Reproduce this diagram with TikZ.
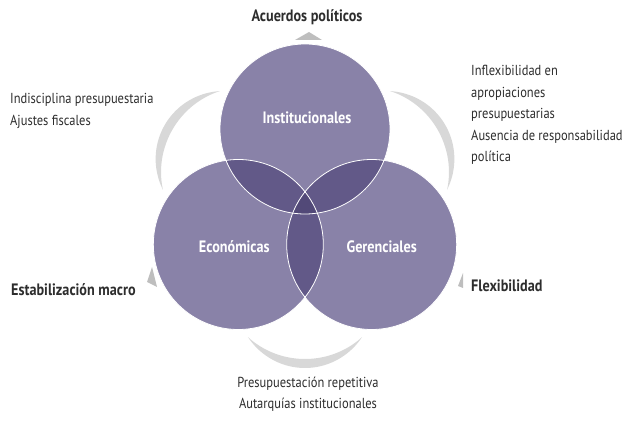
\documentclass[tikz,border=0pt]{standalone}
\usepackage{fontspec}
\setmainfont{PT Sans}[FakeStretch=0.86]
\usepackage{tikz}
\usetikzlibrary{positioning}
\definecolor{vbase}{RGB}{137,130,168}
\definecolor{vpair}{RGB}{98,89,136}
\definecolor{vtri}{RGB}{82,73,120}
\definecolor{arcgray}{RGB}{216,216,216}
\definecolor{tipgray}{RGB}{190,190,190}
\definecolor{textdark}{RGB}{45,45,45}

\begin{document}
\begin{tikzpicture}[x=1pt,y=-1pt,
        crescent/.style={fill=arcgray},
        tip/.style={fill=tipgray},
        lbl/.style={inner sep=0pt,text=white,font=\fontsize{16.5}{18}\selectfont\bfseries},
        key/.style={inner sep=0pt,text=textdark,font=\fontsize{16.5}{18}\selectfont\bfseries},
        note/.style={inner sep=0pt,text=textdark,align=left,font=\fontsize{14.5}{21.5}\selectfont}]
        \useasboundingbox (0,0) rectangle (639,427);
        \coordinate (mid) at (305,206);
        \coordinate (inst) at ([shift={(270:77)}]mid);
        \coordinate (econ) at ([shift={(150:77)}]mid);
        \coordinate (ger) at ([shift={(30:77)}]mid);
        % gray cycle behind the circles
        \foreach \a in {90,210,330}
          \fill[crescent,shift={(mid)}]
            plot[smooth,domain=-23.5:23.5,samples=25] ({\a+\x}:{143+19*(1-(\x/23.5)*(\x/23.5))})
            -- plot[smooth,domain=23.5:-23.5,samples=25] ({\a+\x}:{143+10*(1-(\x/23.5)*(\x/23.5))}) -- cycle;
        \fill[tip] (295,40) -- (309,32) -- (322,40) -- cycle;
        \fill[tip] (152,267) -- (147,282) -- (157,287) -- cycle;
        \fill[tip] (463,273) -- (458,286) -- (463,288) -- cycle;
        % venn
        \foreach \c in {inst,econ,ger} \fill[vbase] (\c) circle[radius=85];
        \begin{scope}
          \clip (inst) circle[radius=85];
          \fill[vpair] (econ) circle[radius=85];
          \fill[vpair] (ger) circle[radius=85];
        \end{scope}
        \begin{scope}
          \clip (econ) circle[radius=85];
          \fill[vpair] (ger) circle[radius=85];
          \clip (ger) circle[radius=85];
          \fill[vtri] (inst) circle[radius=85];
        \end{scope}
        \foreach \c in {inst,econ,ger} \draw[white,line width=0.8pt] (\c) circle[radius=85];
        \node[lbl] (instl) at ([xshift=2pt,yshift=11pt]inst) {Institucionales};
        \node[lbl] (econl) at ([xshift=-4pt,yshift=-2.5pt]econ) {Económicas};
        \node[lbl] (gerl) at ([xshift=10pt,yshift=-2.5pt]ger) {Gerenciales};
        % texts round the cycle
        \node[key] (acuerdos) at (307,17) {Acuerdos políticos};
        \node[key,anchor=west] (estab) at (11,290) {Estabilización macro};
        \node[key,anchor=west] (flex) at (471,286) {Flexibilidad};
        \node[note,anchor=west] (indis) at (10,111) {Indisciplina presupuestaria\\Ajustes fiscales};
        \node[note,anchor=west] (inflex) at (471,115) {Inflexibilidad en\\apropiaciones\\presupuestarias\\Ausencia de responsabilidad\\política};
        \node[note,align=center] (presup) at (308,394) {Presupuestación repetitiva\\Autarquías institucionales};
\end{tikzpicture}
\end{document}
